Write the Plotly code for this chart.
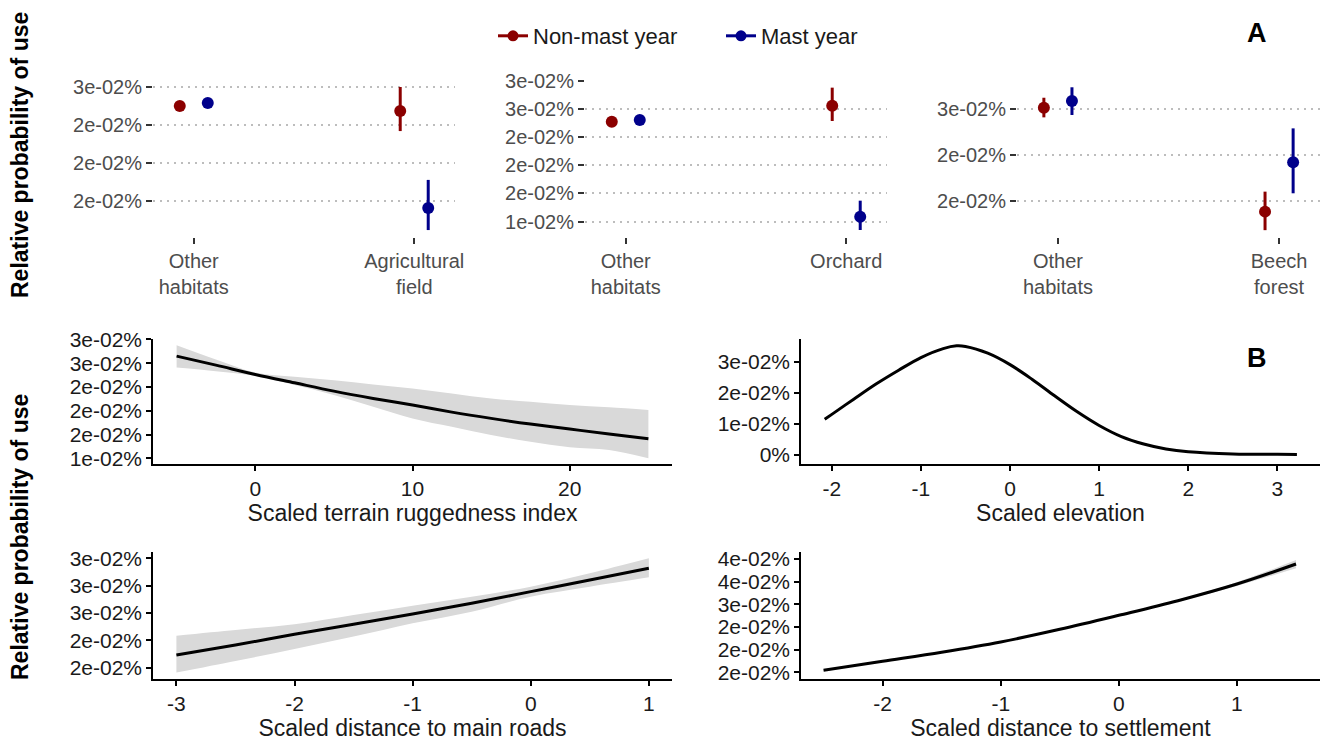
import plotly.graph_objects as go

W, H = 1323, 741
FONT = "Liberation Sans, Arial, sans-serif"

# ---------------- Panel A data (point ranges) ----------------
series_names = ["Non-mast year", "Mast year"]
series_colors = ["#8B0000", "#00008B"]

A1_categories = ["Other<br>habitats", "Agricultural<br>field"]
A1_nonmast = [0.02500, 0.02474]
A1_nonmast_lo = [0.02488, 0.02368]
A1_nonmast_hi = [0.02512, 0.02600]
A1_mast = [0.02516, 0.01963]
A1_mast_lo = [0.02504, 0.01847]
A1_mast_hi = [0.02528, 0.02111]
A1_ticks = [0.026, 0.024, 0.022, 0.020]
A1_ticklabels = ["3e-02%", "2e-02%", "2e-02%", "2e-02%"]

A2_categories = ["Other<br>habitats", "Orchard"]
A2_nonmast = [0.02386, 0.02528]
A2_nonmast_lo = [0.02370, 0.02392]
A2_nonmast_hi = [0.02402, 0.02688]
A2_mast = [0.02401, 0.01544]
A2_mast_lo = [0.02385, 0.01426]
A2_mast_hi = [0.02417, 0.01686]
A2_ticks = [0.0275, 0.0250, 0.0225, 0.0200, 0.0175, 0.0150]
A2_ticklabels = ["3e-02%", "3e-02%", "2e-02%", "2e-02%", "2e-02%", "1e-02%"]

A3_categories = ["Other<br>habitats", "Beech<br>forest"]
A3_nonmast = [0.02510, 0.01943]
A3_nonmast_lo = [0.02457, 0.01842]
A3_nonmast_hi = [0.02564, 0.02052]
A3_mast = [0.02546, 0.02212]
A3_mast_lo = [0.02470, 0.02043]
A3_mast_hi = [0.02621, 0.02397]
A3_ticks = [0.0250, 0.0225, 0.0200]
A3_ticklabels = ["3e-02%", "2e-02%", "2e-02%"]

# ---------------- Panel B data (effect curves) ----------------
B1_x = [-5, -2.5, 0, 2.5, 5, 7.5, 10, 12.5, 15, 17.5, 20, 22.5, 25]
B1_fit = [0.02825, 0.02730, 0.02632, 0.02544, 0.02457, 0.02380, 0.02310, 0.02236, 0.02170, 0.02110, 0.02058, 0.02005, 0.01956]
B1_upper = [0.02940, 0.02790, 0.02653, 0.02607, 0.02572, 0.02527, 0.02485, 0.02433, 0.02380, 0.02345, 0.02310, 0.02286, 0.02257]
B1_lower = [0.02706, 0.02667, 0.02618, 0.02520, 0.02415, 0.02292, 0.02170, 0.02082, 0.01995, 0.01924, 0.01866, 0.01837, 0.01750]
B1_ticks = [0.0300, 0.0275, 0.0250, 0.0225, 0.0200, 0.0175]
B1_ticklabels = ["3e-02%", "3e-02%", "2e-02%", "2e-02%", "2e-02%", "1e-02%"]

B2_x = [-2.08, -2.0, -1.75, -1.5, -1.25, -1.0, -0.75, -0.6, -0.5, -0.25, 0.0, 0.25, 0.5, 0.75, 1.0, 1.25, 1.5, 1.75, 2.0, 2.5, 3.0, 3.22]
B2_fit = [0.0114, 0.0130, 0.0180, 0.0229, 0.0273, 0.0314, 0.0343, 0.0352, 0.0350, 0.0328, 0.0291, 0.0243, 0.0190, 0.0139, 0.0094, 0.0058, 0.0034, 0.0018, 0.0009, 0.0002, 0.00005, 0.00002]
B2_ticks = [0.03, 0.02, 0.01, 0.0]
B2_ticklabels = ["3e-02%", "2e-02%", "1e-02%", "0%"]

B3_x = [-3, -2.5, -2, -1.5, -1, -0.5, 0, 0.5, 1]
B3_fit = [0.02116, 0.02207, 0.02305, 0.02397, 0.02491, 0.02589, 0.02695, 0.02802, 0.02909]
B3_upper = [0.02293, 0.02345, 0.02397, 0.02482, 0.02567, 0.02649, 0.02740, 0.02863, 0.03000]
B3_lower = [0.01955, 0.02061, 0.02171, 0.02284, 0.02406, 0.02512, 0.02649, 0.02740, 0.02826]
B3_ticks = [0.0300, 0.0275, 0.0250, 0.0225, 0.0200]
B3_ticklabels = ["3e-02%", "3e-02%", "3e-02%", "2e-02%", "2e-02%"]

B4_x = [-2.5, -2.0, -1.5, -1.0, -0.5, 0.0, 0.5, 1.0, 1.5]
B4_fit = [0.01548, 0.01747, 0.01945, 0.02172, 0.02451, 0.02760, 0.03082, 0.03449, 0.03890]
B4_upper = [0.01568, 0.01765, 0.01962, 0.02188, 0.02466, 0.02776, 0.03105, 0.03490, 0.03978]
B4_lower = [0.01528, 0.01729, 0.01928, 0.02156, 0.02436, 0.02744, 0.03059, 0.03408, 0.03795]
B4_ticks = [0.040, 0.035, 0.030, 0.025, 0.020, 0.015]
B4_ticklabels = ["4e-02%", "4e-02%", "3e-02%", "2e-02%", "2e-02%", "2e-02%"]

B_titles = ["Scaled terrain ruggedness index", "Scaled elevation",
            "Scaled distance to main roads", "Scaled distance to settlement"]

# ---------------- helpers ----------------
def dx(a, b):
    return [a / W, b / W]

def dy(top, bottom):
    return [1 - bottom / H, 1 - top / H]

fig = go.Figure()

A_panels = [
    (A1_categories, (A1_nonmast, A1_nonmast_lo, A1_nonmast_hi), (A1_mast, A1_mast_lo, A1_mast_hi)),
    (A2_categories, (A2_nonmast, A2_nonmast_lo, A2_nonmast_hi), (A2_mast, A2_mast_lo, A2_mast_hi)),
    (A3_categories, (A3_nonmast, A3_nonmast_lo, A3_nonmast_hi), (A3_mast, A3_mast_lo, A3_mast_hi)),
]
dodge = 0.0635
for i, (cats, nm, m) in enumerate(A_panels):
    ax = "" if i == 0 else str(i + 1)
    for j, (vals, col) in enumerate(zip((nm, m), series_colors)):
        y, lo, hi = vals
        off = -dodge if j == 0 else dodge
        fig.add_trace(go.Scatter(
            x=[k + off for k in range(len(cats))], y=y, mode="markers",
            marker=dict(color=col, size=12),
            error_y=dict(type="data", symmetric=False,
                         array=[h - v for h, v in zip(hi, y)],
                         arrayminus=[v - l for v, l in zip(y, lo)],
                         color=col, thickness=3, width=0),
            showlegend=False, xaxis="x" + ax, yaxis="y" + ax))

# legend entries
for name, col in zip(series_names, series_colors):
    fig.add_trace(go.Scatter(x=[None], y=[None], mode="lines+markers", name=name,
                             line=dict(color=col, width=3), marker=dict(color=col, size=11),
                             xaxis="x", yaxis="y"))

B_panels = [
    (B1_x, B1_fit, B1_upper, B1_lower),
    (B2_x, B2_fit, None, None),
    (B3_x, B3_fit, B3_upper, B3_lower),
    (B4_x, B4_fit, B4_upper, B4_lower),
]
for i, (xs, fit, up, lo) in enumerate(B_panels):
    ax = str(i + 4)
    if up is not None:
        fig.add_trace(go.Scatter(x=xs, y=up, mode="lines", line=dict(width=0, shape="spline"),
                                 showlegend=False, hoverinfo="skip", xaxis="x" + ax, yaxis="y" + ax))
        fig.add_trace(go.Scatter(x=xs, y=lo, mode="lines", line=dict(width=0, shape="spline"),
                                 fill="tonexty", fillcolor="#d9d9d9",
                                 showlegend=False, hoverinfo="skip", xaxis="x" + ax, yaxis="y" + ax))
    fig.add_trace(go.Scatter(x=xs, y=fit, mode="lines", line=dict(color="black", width=3, shape="spline"),
                             showlegend=False, xaxis="x" + ax, yaxis="y" + ax))

# ---------------- axes ----------------
A_tick_font = dict(family=FONT, size=20, color="#4d4d4d")
B_tick_font = dict(family=FONT, size=21, color="#1a1a1a")
title_font = dict(family=FONT, size=23, color="#1a1a1a")

A_x_dom = [(153, 455), (585, 887), (1017, 1320)]
A_y_dom = (80, 237)
A_y_ranges = [(0.018105, 0.026368), (0.013639, 0.027558), (0.018047, 0.026607)]
A_ticks = [(A1_ticks, A1_ticklabels), (A2_ticks, A2_ticklabels), (A3_ticks, A3_ticklabels)]
A_cats = [A1_categories, A2_categories, A3_categories]

layout = {}
for i in range(3):
    ax = "" if i == 0 else str(i + 1)
    layout["xaxis" + ax] = dict(
        domain=dx(*A_x_dom[i]), anchor="y" + ax, range=[-0.185, 1.185], automargin=False,
        tickvals=list(range(len(A_cats[i]))), ticktext=A_cats[i],
        ticks="outside", ticklen=6, tickwidth=2, tickcolor="#333333",
        showgrid=False, zeroline=False, showline=False, tickfont=A_tick_font, fixedrange=True)
    layout["yaxis" + ax] = dict(
        domain=dy(*A_y_dom), anchor="x" + ax, range=list(A_y_ranges[i]), automargin=False,
        tickvals=A_ticks[i][0], ticktext=A_ticks[i][1],
        ticks="outside", ticklen=6, tickwidth=2, tickcolor="#333333",
        showgrid=True, gridcolor="#bdbdbd", gridwidth=2, griddash="2px,5px",
        zeroline=False, showline=False, tickfont=A_tick_font)

B_x_dom = [(153, 672), (801, 1320), (153, 672), (801, 1320)]
B_y_dom = [(339.3, 464.3), (339.3, 464.3), (551.7, 679.3), (551.7, 679.3)]
B_x_ranges = [(-6.5, 26.5), (-2.346, 3.479), (-3.198, 1.196), (-2.691, 1.703)]
B_y_ranges = [(0.01687, 0.03002), (-0.003175, 0.03731), (0.01894, 0.0306), (0.0135, 0.04161)]
B_x_ticks = [[0, 10, 20], [-2, -1, 0, 1, 2, 3], [-3, -2, -1, 0, 1], [-2, -1, 0, 1]]
B_y_ticks = [(B1_ticks, B1_ticklabels), (B2_ticks, B2_ticklabels), (B3_ticks, B3_ticklabels), (B4_ticks, B4_ticklabels)]
for i in range(4):
    ax = str(i + 4)
    layout["xaxis" + ax] = dict(
        domain=dx(*B_x_dom[i]), anchor="y" + ax, range=list(B_x_ranges[i]), automargin=False,
        tickvals=B_x_ticks[i], ticktext=[str(v) for v in B_x_ticks[i]],
        ticks="outside", ticklen=5, tickwidth=1.5, tickcolor="black",
        showline=True, linecolor="black", linewidth=1.5, showgrid=False, zeroline=False,
        tickfont=B_tick_font,
        title=dict(text=B_titles[i], font=title_font, standoff=2))
    layout["yaxis" + ax] = dict(
        domain=dy(*B_y_dom[i]), anchor="x" + ax, range=list(B_y_ranges[i]), automargin=False,
        tickvals=B_y_ticks[i][0], ticktext=B_y_ticks[i][1],
        ticks="outside", ticklen=5, tickwidth=1.5, tickcolor="black",
        showline=True, linecolor="black", linewidth=1.5, showgrid=False, zeroline=False,
        tickfont=B_tick_font)

annotations = [
    dict(text="<b>A</b>", x=1257 / W, y=1 - 33 / H, xref="paper", yref="paper",
         xanchor="center", yanchor="middle",
         showarrow=False, font=dict(family=FONT, size=27, color="black")),
    dict(text="<b>B</b>", x=1257 / W, y=1 - 358 / H, xref="paper", yref="paper",
         xanchor="center", yanchor="middle",
         showarrow=False, font=dict(family=FONT, size=27, color="black")),
    dict(text="<b>Relative probability of use</b>", x=20 / W, y=1 - 155 / H, xref="paper", yref="paper",
         xanchor="center", yanchor="middle",
         textangle=-90, showarrow=False, font=dict(family=FONT, size=23, color="black")),
    dict(text="<b>Relative probability of use</b>", x=20 / W, y=1 - 537 / H, xref="paper", yref="paper",
         xanchor="center", yanchor="middle",
         textangle=-90, showarrow=False, font=dict(family=FONT, size=23, color="black")),
]

fig.update_layout(
    width=W, height=H, autosize=False, margin=dict(l=0, r=0, t=0, b=0, pad=0),
    paper_bgcolor="white", plot_bgcolor="white",
    font=dict(family=FONT, color="#1a1a1a"),
    showlegend=True,
    legend=dict(orientation="h", x=493 / W, y=1 - 36 / H, xanchor="left", yanchor="middle",
                traceorder="normal",
                font=dict(family=FONT, size=22, color="#1a1a1a"), bgcolor="rgba(0,0,0,0)",
                itemwidth=30, entrywidth=183),
    annotations=annotations,
    **layout,
)

fig.write_html("out.html", config={"displayModeBar": False},
               post_script="document.body.style.margin='0px';")
